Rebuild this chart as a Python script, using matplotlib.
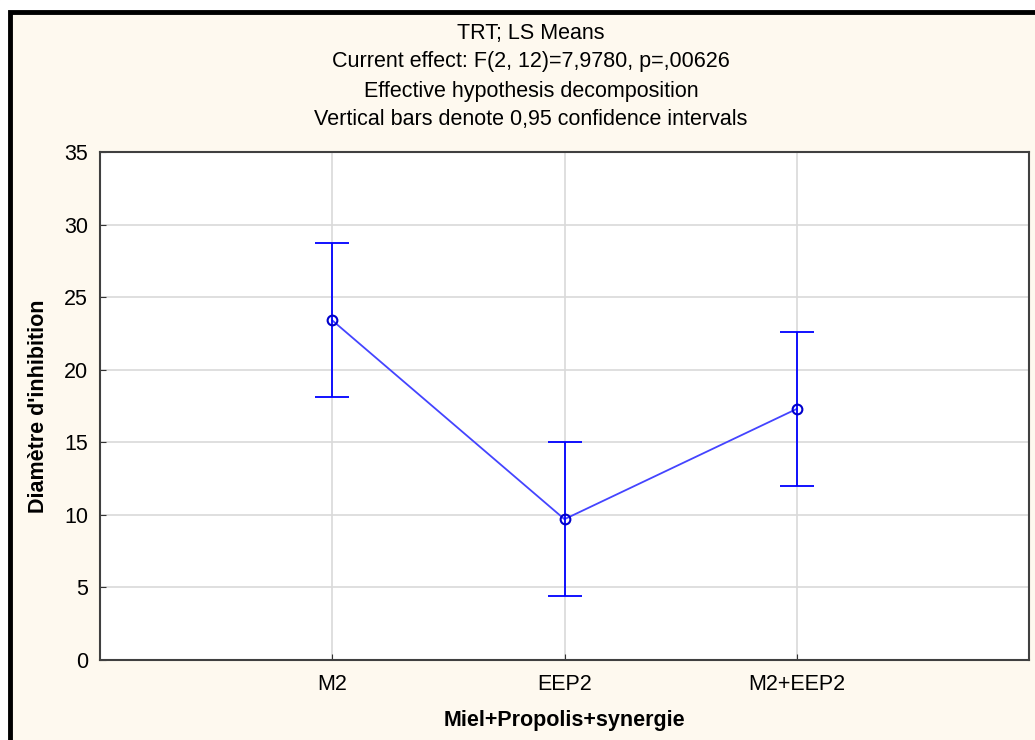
import matplotlib.pyplot as plt
from matplotlib.patches import Rectangle

plt.rcParams['font.family'] = ['Liberation Sans', 'DejaVu Sans']

groups = ['M2', 'EEP2', 'M2+EEP2']
means = [23.4, 9.7, 17.3]
ci_low = [18.1, 4.4, 12.0]
ci_high = [28.7, 15.0, 22.6]

title_lines = ['TRT; LS Means',
               'Current effect: F(2, 12)=7,9780, p=,00626',
               'Effective hypothesis decomposition',
               'Vertical bars denote 0,95 confidence intervals']

bg = '#FEF9EF'
fig = plt.figure(figsize=(10.35, 7.4), dpi=100, facecolor=bg)
ax = fig.add_axes([100 / 1035, 80 / 740, 929 / 1035, 508 / 740])

x = list(range(1, len(groups) + 1))
err_lo = [m - lo for m, lo in zip(means, ci_low)]
err_hi = [hi - m for m, hi in zip(means, ci_high)]

ax.plot(x, means, color='#4444FF', lw=1.3, zorder=3)
ax.errorbar(x, means, yerr=[err_lo, err_hi], fmt='none', ecolor='#0000FF',
            elinewidth=1.3, capsize=12, capthick=1.3, zorder=4)
ax.plot(x, means, 'o', mfc='none', mec='#0000CC', ms=7, mew=1.5, zorder=5)

ax.set_xlim(0, 4)
ax.set_ylim(0, 35)
ax.set_yticks(range(0, 36, 5))
ax.set_xticks(x)
ax.set_xticklabels(groups)
ax.grid(True, color='#D9D9D9', lw=1.2)
ax.set_axisbelow(True)
ax.tick_params(labelsize=15.5, length=4, color='#333333', direction='in')
ax.tick_params(axis='x', pad=10)
ax.tick_params(axis='y', pad=8.6)
for s in ax.spines.values():
    s.set_color('#404040')
    s.set_linewidth(1.5)

ax.set_ylabel("Diamètre d'inhibition", fontsize=15.5, fontweight='bold', labelpad=10.9)
ax.set_xlabel('Miel+Propolis+synergie', fontsize=15.5, fontweight='bold', labelpad=10.8)

for i, line in enumerate(title_lines):
    fig.text(531 / 1035, 1 - (33 + 29 * i) / 740, line, ha='center', va='center', fontsize=15.5)

# outer frame
fig.patches.append(Rectangle((9.5 / 1035, -0.05), 1.1, 1 - 11.5 / 740 + 0.05,
                             transform=fig.transFigure, fill=False,
                             edgecolor='black', lw=3.5))
fig.patches.append(Rectangle((0, 1 - 10 / 740), 1, 10 / 740,
                             transform=fig.transFigure, color='white', zorder=-1))
fig.patches.append(Rectangle((0, 0), 8 / 1035, 1,
                             transform=fig.transFigure, color='white', zorder=-1))

fig.savefig('out.png', dpi=100, facecolor=bg)
